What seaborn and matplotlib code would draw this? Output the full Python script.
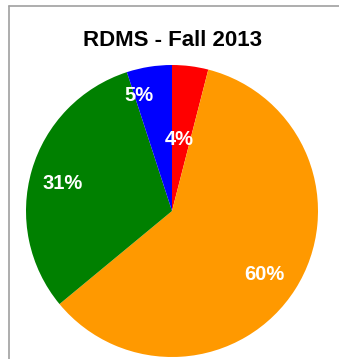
import numpy as np
import matplotlib
matplotlib.use('Agg')
import matplotlib.pyplot as plt
import seaborn as sns
from matplotlib.lines import Line2D

# Slices, clockwise from 12 o'clock
labels = ['Red', 'Orange', 'Green', 'Blue']
shares = [4, 60, 31, 5]
colors = ['#FF0000', '#FF9900', '#008000', '#0000FF']

# where each percentage label sits (fraction of radius, angle nudge in degrees)
label_dist = [0.49, 0.77, 0.77, 0.82]
label_shift = [1, -2, 2, 7]

sns.set_theme(style='white')
plt.rcParams['font.family'] = ['Liberation Sans', 'DejaVu Sans']

fig = plt.figure(figsize=(3.39, 3.59), dpi=100)
fig.patch.set_facecolor('white')

# chart area border (top and left visible in the crop)
fig.add_artist(Line2D([9/339, 9/339], [0, 1 - 6/359], transform=fig.transFigure,
                      color='#a0a0a0', lw=1.2))
fig.add_artist(Line2D([9/339, 1], [1 - 6/359, 1 - 6/359], transform=fig.transFigure,
                      color='#a0a0a0', lw=1.2))

ax = fig.add_axes([26/339, 2/359, 292/339, 292/359])
wedges, _ = ax.pie(shares, colors=colors, startangle=90, counterclock=False,
                   wedgeprops=dict(linewidth=0))
ax.set_xlim(-1, 1)
ax.set_ylim(-1, 1)
ax.set_aspect('equal')
ax.axis('off')

total = sum(shares)
for w, s, d, sh in zip(wedges, shares, label_dist, label_shift):
    ang = np.deg2rad((w.theta1 + w.theta2) / 2 + sh)
    ax.text(d * np.cos(ang), d * np.sin(ang), f'{round(100 * s / total)}%',
            ha='center', va='center', color='white', fontsize=14.5, fontweight='bold')

fig.text(172/339, 1 - 41/359, 'RDMS - Fall 2013', ha='center', va='center',
         fontsize=16, fontweight='bold', color='black')

fig.savefig('out.png', dpi=100)
